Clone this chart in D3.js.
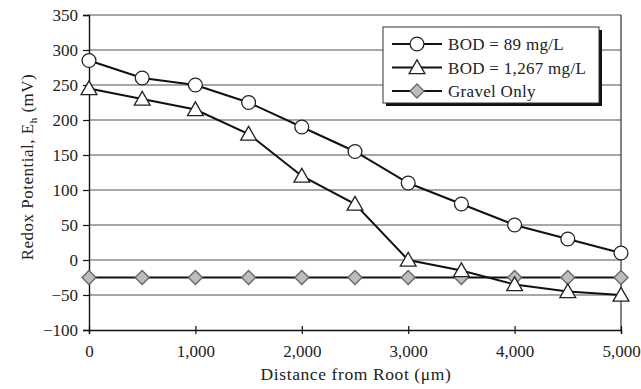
<!DOCTYPE html>
<html>
<head>
<meta charset="utf-8">
<script src="https://cdn.jsdelivr.net/npm/d3@7"></script>
<style>
  html, body { margin: 0; padding: 0; background: #fff; }
  svg { display: block; }
  text { font-family: "Liberation Serif", "DejaVu Serif", serif; fill: #222; }
</style>
</head>
<body>
<svg id="chart" width="641" height="389"></svg>
<script>
// Distance from the root surface (µm)
const distances = [0, 500, 1000, 1500, 2000, 2500, 3000, 3500, 4000, 4500, 5000];
// Redox potential Eh (mV) for each treatment
const bod89 = [285, 260, 250, 225, 190, 155, 110, 80, 50, 30, 10];
const bod1267 = [245, 230, 215, 180, 120, 80, 0, -15, -35, -45, -50];
const gravelOnly = [-25, -25, -25, -25, -25, -25, -25, -25, -25, -25, -25];
const seriesNames = ["BOD = 89 mg/L", "BOD = 1,267 mg/L", "Gravel Only"];
const xTicks = [0, 1000, 2000, 3000, 4000, 5000];
const yTicks = [-100, -50, 0, 50, 100, 150, 200, 250, 300, 350];

const svg = d3.select("#chart");
const m = { left: 89, right: 621, top: 15, bottom: 330 };

const x = d3.scaleLinear().domain([0, 5000]).range([m.left, m.right]);
const y = d3.scaleLinear().domain([-100, 350]).range([m.bottom, m.top]);

const tickFont = "17px";

// Horizontal gridlines
svg.append("g").selectAll("line").data(yTicks.filter(v => v !== -100)).join("line")
  .attr("x1", m.left).attr("x2", m.right)
  .attr("y1", d => y(d)).attr("y2", d => y(d))
  .attr("stroke", "#8a8a8a").attr("stroke-width", 1.3);

// Right border of the plot area
svg.append("line")
  .attr("x1", m.right).attr("x2", m.right).attr("y1", m.top).attr("y2", m.bottom)
  .attr("stroke", "#333").attr("stroke-width", 1.2);

// Y axis
const yAxis = svg.append("g").attr("transform", `translate(${m.left},0)`)
  .call(d3.axisLeft(y).tickValues(yTicks).tickSize(6).tickPadding(5)
    .tickFormat(d => d < 0 ? "\u2212" + Math.abs(d) : d));
yAxis.select(".domain").attr("stroke", "#111").attr("stroke-width", 1.4);
yAxis.selectAll(".tick line").attr("stroke", "#111").attr("stroke-width", 1.2);
yAxis.selectAll("text").style("font-size", tickFont).attr("fill", "#222");

// X axis
const xAxis = svg.append("g").attr("transform", `translate(0,${m.bottom})`)
  .call(d3.axisBottom(x).tickValues(xTicks).tickSize(4).tickPadding(11)
    .tickFormat(d3.format(",")));
xAxis.select(".domain").attr("stroke", "#111").attr("stroke-width", 1.4);
xAxis.selectAll(".tick line").attr("stroke", "#111").attr("stroke-width", 1.2).attr("y1", -4);
xAxis.selectAll("text").style("font-size", tickFont).attr("fill", "#222");

// Axis titles
svg.append("text")
  .attr("x", 356).attr("y", 380)
  .attr("text-anchor", "middle").style("font-size", "17.5px").style("letter-spacing", "0.6px")
  .text("Distance from Root (\u03bcm)");

const yt = svg.append("text")
  .attr("transform", `translate(33,167) rotate(-90)`)
  .attr("text-anchor", "middle").style("font-size", "17px").style("letter-spacing", "0.5px");
yt.append("tspan").text("Redox Potential, E");
yt.append("tspan").attr("dy", 4).style("font-size", "11px").text("h");
yt.append("tspan").attr("dy", -4).text(" (mV)");

const line = d3.line().x((d, i) => x(distances[i])).y(d => y(d));

// Diamonds are drawn as squares turned by 45°
const diamondPath = (() => { const h = 7; return `M0,${-h}L${h},0L0,${h}L${-h},0Z`; })();
const symbols = {
  circle: () => d3.symbol().type(d3.symbolCircle).size(150)(),
  triangle: () => d3.symbol().type(d3.symbolTriangle).size(108)(),
  diamond: () => diamondPath
};
const series = [
  { name: seriesNames[0], values: bod89, sym: "circle", fill: "#fff" },
  { name: seriesNames[1], values: bod1267, sym: "triangle", fill: "#fff" },
  { name: seriesNames[2], values: gravelOnly, sym: "diamond", fill: "#bdbdbd" }
];

function drawMarker(g, s, cx, cy) {
  g.append("path")
    .attr("d", symbols[s.sym]())
    .attr("transform", `translate(${cx},${cy + (s.sym === "triangle" ? 1.5 : 0)})`)
    .attr("fill", s.fill).attr("stroke", s.sym === "diamond" ? "#666" : "#222")
    .attr("stroke-width", 1.3);
}

// Draw lines first (gravel at the bottom), then markers
const order = [2, 1, 0];
order.forEach(k => {
  const s = series[k];
  svg.append("path").datum(s.values).attr("d", line)
    .attr("fill", "none").attr("stroke", "#111").attr("stroke-width", 2);
});
order.forEach(k => {
  const s = series[k];
  const g = svg.append("g");
  s.values.forEach((v, i) => drawMarker(g, s, x(distances[i]), y(v)));
});

// Legend with drop shadow
const lg = svg.append("g");
const L = { x: 383, y: 27, w: 216, h: 76 };
lg.append("rect").attr("x", L.x + 3).attr("y", L.y + 3).attr("width", L.w).attr("height", L.h)
  .attr("fill", "#111");
lg.append("rect").attr("x", L.x).attr("y", L.y).attr("width", L.w).attr("height", L.h)
  .attr("fill", "#fff").attr("stroke", "#333").attr("stroke-width", 1);
series.forEach((s, i) => {
  const cy = L.y + 17 + i * 23.5;
  lg.append("line").attr("x1", L.x + 9).attr("x2", L.x + 59).attr("y1", cy).attr("y2", cy)
    .attr("stroke", "#111").attr("stroke-width", 2);
  drawMarker(lg, s, L.x + 34, cy);
  lg.append("text").attr("x", L.x + 65).attr("y", cy + 6)
    .style("font-size", "17px").style("letter-spacing", "0.3px").text(s.name);
});
</script>
</body>
</html>
